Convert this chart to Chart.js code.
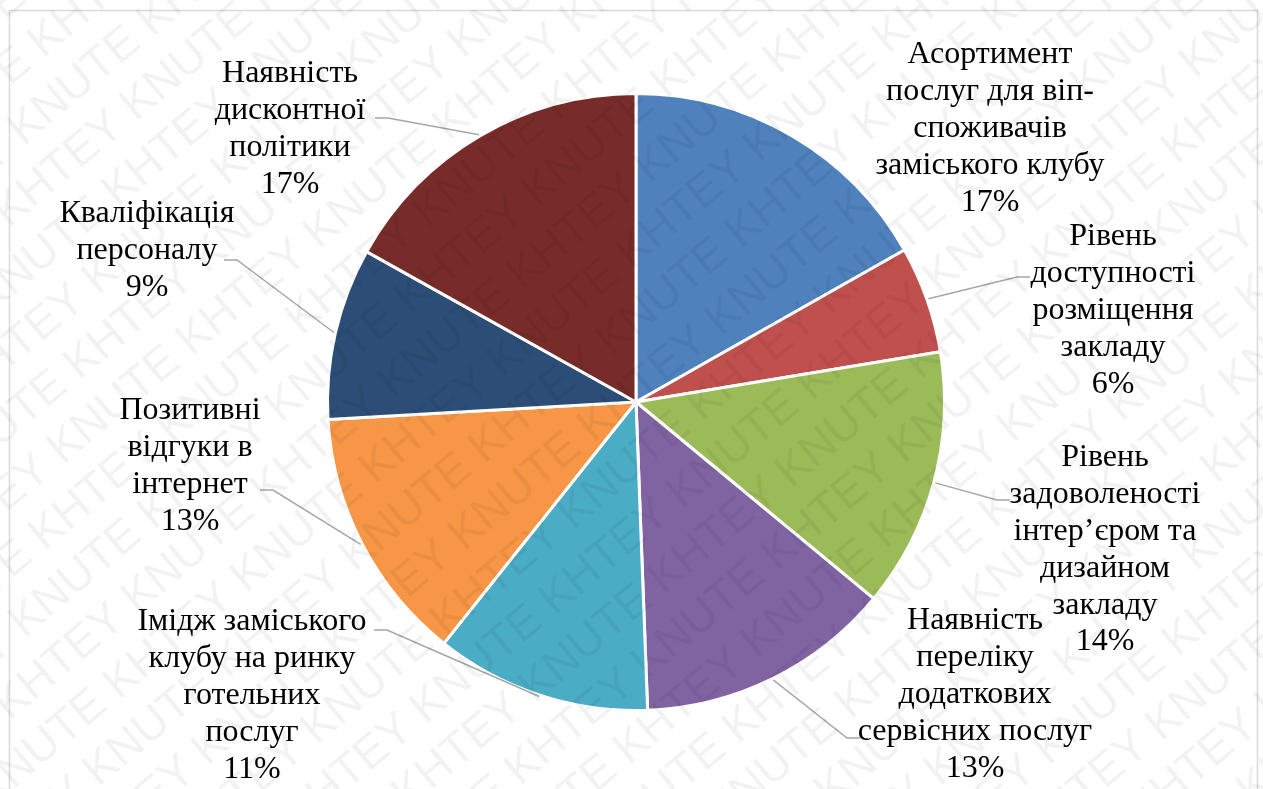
<!DOCTYPE html>
<html>
<head>
<meta charset="utf-8">
<script src="https://cdn.jsdelivr.net/npm/chart.js@4.4.1/dist/chart.umd.min.js"></script>
<style>
  html, body { margin: 0; padding: 0; background: #fff; overflow: hidden; }
  #wrap { position: relative; width: 1263px; height: 789px; }
</style>
</head>
<body>
<div id="wrap"><canvas id="chart" width="1263" height="789"></canvas></div>
<script>
/* ── Data ─────────────────────────────────────────────── */
const categories = [
  ['Асортимент', 'послуг для віп-', 'споживачів', 'заміського клубу'],
  ['Рівень', 'доступності', 'розміщення', 'закладу'],
  ['Рівень', 'задоволеності', 'інтер’єром та', 'дизайном', 'закладу'],
  ['Наявність', 'переліку', 'додаткових', 'сервісних послуг'],
  ['Імідж заміського', 'клубу на ринку', 'готельних', 'послуг'],
  ['Позитивні', 'відгуки в', 'інтернет'],
  ['Кваліфікація', 'персоналу'],
  ['Наявність', 'дисконтної', 'політики']
];
const shares = [16.8, 5.6, 13.6, 13.4, 11.3, 13.4, 9.0, 16.9];

const sliceColors = ['#4F81BD', '#C0504D', '#9BBB59', '#8064A2', '#4BACC6', '#F79646', '#2C4D75', '#772C2A'];

/* label placement relative to pie centre: [text centre x, first line y, leader end x, leader end y] */
const labelLayout = [
  [354, -347, null, null],
  [477, -165, 394, -125],
  [469,   56, 374,   98],
  [339,  219, 224,  336],
  [-384, 220, -262, 228],
  [-446,   9, -376,  88],
  [-489, -188, -412, -142],
  [-346, -328, -261, -284]
];

const LABEL_FONT = '32px "Liberation Serif"';
const LINE_H = 36.8;

/* ── Plugins ──────────────────────────────────────────── */
const framePlugin = {
  id: 'frame',
  beforeDraw(chart) {
    const ctx = chart.ctx;
    ctx.save();
    ctx.strokeStyle = '#d9d9d9';
    ctx.lineWidth = 1.5;
    ctx.strokeRect(9.5, 10.5, 1248, 820);
    ctx.restore();
  }
};

const outsideLabels = {
  id: 'outsideLabels',
  afterDatasetsDraw(chart) {
    const ctx = chart.ctx;
    const arcs = chart.getDatasetMeta(0).data;
    const total = shares.reduce((a, b) => a + b, 0);
    ctx.save();
    arcs.forEach((arc, i) => {
      const { x: cx, y: cy, startAngle, endAngle, outerRadius } = arc.getProps(['x', 'y', 'startAngle', 'endAngle', 'outerRadius'], true);
      const mid = (startAngle + endAngle) / 2;
      const r = outerRadius + 1.5;
      const ax = cx + Math.cos(mid) * r;
      const ay = cy + Math.sin(mid) * r;
      const [tx, ty, ex, ey] = labelLayout[i];

      if (ex !== null) {
        const endX = cx + ex, endY = cy + ey;
        const dir = Math.sign(ax - endX);
        ctx.strokeStyle = '#a6a6a6';
        ctx.lineWidth = 1.5;
        ctx.beginPath();
        ctx.moveTo(ax, ay);
        ctx.lineTo(endX + dir * 13, endY);
        ctx.lineTo(endX, endY);
        ctx.stroke();
      }

      const lines = [...categories[i], Math.round(shares[i] / total * 100) + '%'];
      ctx.fillStyle = '#000';
      ctx.font = LABEL_FONT;
      ctx.textAlign = 'center';
      ctx.textBaseline = 'middle';
      lines.forEach((t, k) => ctx.fillText(t, cx + tx, cy + ty + k * LINE_H));
    });
    ctx.restore();
  }
};

const watermark = {
  id: 'watermark',
  afterDraw(chart) {
    const ctx = chart.ctx;
    const { width, height } = chart;
    ctx.save();
    ctx.translate(width / 2, height / 2);
    ctx.rotate(-40 * Math.PI / 180);
    ctx.font = '46px "Liberation Sans", sans-serif';
    ctx.fillStyle = 'rgba(0,0,0,0.05)';
    ctx.textBaseline = 'middle';
    const row = 'KHTEY KNUTE '.repeat(14);
    for (let k = -14; k <= 14; k++) {
      ctx.fillText(row, -1400 + (k * 97) % 330, k * 54);
    }
    ctx.restore();
  }
};

/* ── Chart ────────────────────────────────────────────── */
function draw() {
  new Chart(document.getElementById('chart'), {
    type: 'pie',
    data: {
      labels: categories.map(c => c.join(' ')),
      datasets: [{
        data: shares,
        backgroundColor: sliceColors,
        borderColor: '#ffffff',
        borderWidth: 3
      }]
    },
    options: {
      responsive: false,
      devicePixelRatio: 1,
      animation: false,
      events: [],
      layout: { padding: { left: 326, right: 317, top: 92, bottom: 77 } },
      plugins: {
        legend: { display: false },
        tooltip: { enabled: false }
      }
    },
    plugins: [framePlugin, outsideLabels, watermark]
  });
}

Promise.all([
  document.fonts.load(LABEL_FONT, 'Асортимент 17%'),
  document.fonts.load('46px "Liberation Sans"', 'KNUTE')
]).then(draw, draw);
</script>
</body>
</html>
